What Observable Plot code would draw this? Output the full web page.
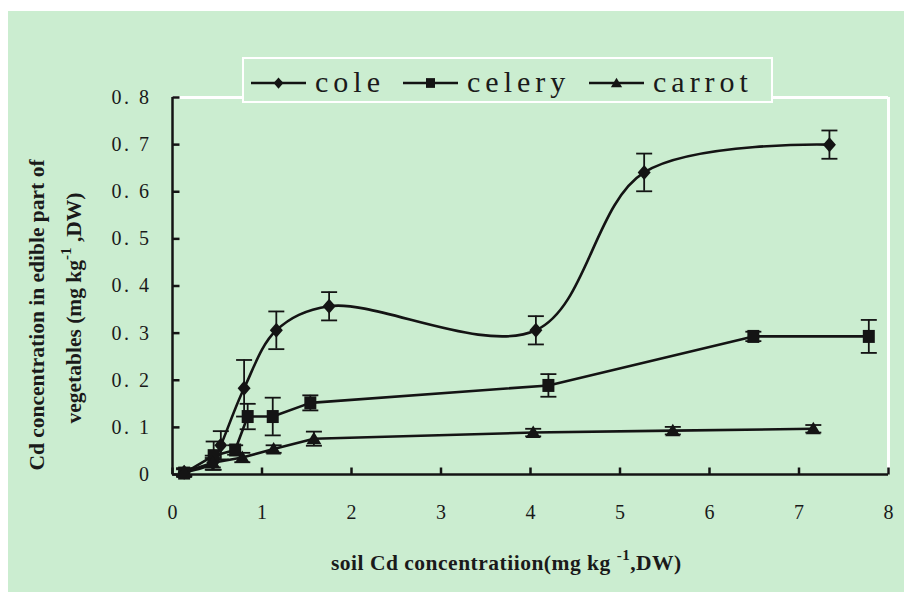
<!DOCTYPE html>
<html><head><meta charset="utf-8">
<script src="https://cdn.jsdelivr.net/npm/d3@7"></script>
<script src="https://cdn.jsdelivr.net/npm/@observablehq/plot@0.6"></script>
<style>
body{margin:0;background:#fff;width:904px;height:592px;overflow:hidden;position:relative;}
#panel{position:absolute;left:8px;top:11px;width:896px;height:581px;background:#cbedd0;}
#chart{position:absolute;left:0;top:0;}
.ttl{position:absolute;font-family:"Liberation Serif",serif;font-weight:bold;font-size:21.5px;color:#1a1a1a;white-space:nowrap;line-height:1;}
.ttl sup{font-size:15px;position:relative;top:-2px;}
.rot{transform:translate(-50%,-50%) rotate(-90deg);}
#legend{position:absolute;left:234px;top:46px;width:527px;height:42px;border:2.5px solid #fff;background:#cbedd0;}
#chart .ylab text{letter-spacing:2.5px;}
</style></head>
<body>
<div id="panel">
  <div id="chart"></div>
  <div id="legend"></div>
  <div class="ttl rot" style="left:30px;top:304px;">Cd concentration in edible part of</div>
  <div class="ttl rot" style="left:65px;top:297px;">vegetables (mg kg<sup>-1</sup> ,DW)</div>
  <div class="ttl" style="left:323px;top:539px;letter-spacing:0.5px;">soil Cd concentratiion(mg kg <sup>-1</sup>,DW)</div>
</div>
<script>
// ---- data ----
const seriesNames = ["cole", "celery", "carrot"];
const coleX   = [0.13, 0.45, 0.54, 0.80, 1.16, 1.75, 4.06, 5.27, 7.34];
const coleY   = [0.005, 0.025, 0.062, 0.183, 0.306, 0.357, 0.306, 0.641, 0.700];
const coleErr = [0.008, 0.015, 0.030, 0.060, 0.040, 0.030, 0.030, 0.040, 0.030];
const celeryX   = [0.13, 0.46, 0.70, 0.84, 1.12, 1.54, 4.20, 6.49, 7.78];
const celeryY   = [0.003, 0.040, 0.052, 0.123, 0.123, 0.152, 0.189, 0.293, 0.293];
const celeryErr = [0.008, 0.030, 0.010, 0.027, 0.040, 0.016, 0.024, 0.010, 0.035];
const carrotX   = [0.13, 0.45, 0.78, 1.13, 1.58, 4.03, 5.59, 7.16];
const carrotY   = [0.005, 0.025, 0.036, 0.054, 0.076, 0.089, 0.093, 0.097];
const carrotErr = [0.008, 0.010, 0.010, 0.008, 0.015, 0.008, 0.008, 0.008];
const xTicks = [0, 1, 2, 3, 4, 5, 6, 7, 8];
const xLabels = ["0", "1", "2", "3", "4", "5", "6", "7", "8"];
const yTicks = [0, 0.1, 0.2, 0.3, 0.4, 0.5, 0.6, 0.7, 0.8];
const yLabels = ["0", "0. 1", "0. 2", "0. 3", "0. 4", "0. 5", "0. 6", "0. 7", "0. 8"];

const ink = "#141414";
const diamondSym = {draw(c){ c.moveTo(0,-7.5); c.lineTo(6.5,0); c.lineTo(0,7.5); c.lineTo(-6.5,0); c.closePath(); }};
const squareSym  = {draw(c){ c.moveTo(-6,-6.5); c.lineTo(6,-6.5); c.lineTo(6,6.5); c.lineTo(-6,6.5); c.closePath(); }};
const triSym     = {draw(c){ c.moveTo(0,-7); c.lineTo(7.5,5.5); c.lineTo(-7.5,5.5); c.closePath(); }};
const capSym     = {draw(c){ c.moveTo(-8,0); c.lineTo(8,0); }};
const yTickSym   = {draw(c){ c.moveTo(0,0); c.lineTo(7,0); }};
const xTickSym   = {draw(c){ c.moveTo(0,0); c.lineTo(0,-7); }};

const mk = (name, X, Y, E) => X.map((x, i) => ({name, x, y: Y[i], lo: Y[i] - E[i], hi: Y[i] + E[i]}));
const cole = mk("cole", coleX, coleY, coleErr);
const celery = mk("celery", celeryX, celeryY, celeryErr);
const carrot = mk("carrot", carrotX, carrotY, carrotErr);
const all = [...cole, ...celery, ...carrot];
const syms = {cole: diamondSym, celery: squareSym, carrot: triSym};
const curves = {cole: "catmull-rom", celery: "linear", carrot: "linear"};

const marks = [
  Plot.ruleY([0.8], {stroke: "#fff", strokeWidth: 3}),
  Plot.ruleX([8], {stroke: "#fff", strokeWidth: 3}),
  Plot.ruleX(all, {x: "x", y1: "lo", y2: "hi", stroke: ink, strokeWidth: 1.8}),
  Plot.dot(all, {x: "x", y: "lo", symbol: capSym, stroke: ink, strokeWidth: 1.8, fill: "none"}),
  Plot.dot(all, {x: "x", y: "hi", symbol: capSym, stroke: ink, strokeWidth: 1.8, fill: "none"}),
];
for (const d of [cole, celery, carrot]) {
  marks.push(Plot.line(d, {x: "x", y: "y", curve: curves[d[0].name], stroke: ink, strokeWidth: 2.6}));
}
for (const d of [cole, celery, carrot]) {
  marks.push(Plot.dot(d, {x: "x", y: "y", symbol: syms[d[0].name], fill: ink, stroke: "none"}));
}
marks.push(
  Plot.ruleX([0], {stroke: ink, strokeWidth: 2.5}),
  Plot.ruleY([0], {stroke: ink, strokeWidth: 2.5}),
  Plot.dot(yTicks, {x: 0, y: d => d, symbol: yTickSym, stroke: ink, strokeWidth: 2.5}),
  Plot.dot(xTicks, {x: d => d, y: 0, symbol: xTickSym, stroke: ink, strokeWidth: 2.5}),
  Plot.axisY(yTicks, {tickSize: 0, tickPadding: 21, tickFormat: d => yLabels[Math.round(d * 10)], label: null, className: "ylab"}),
  Plot.axisX(xTicks, {tickSize: 0, tickPadding: 30, tickFormat: d => xLabels[Math.round(d)], label: null})
);

const plot = Plot.plot({
  width: 896, height: 581,
  marginLeft: 164, marginRight: 16, marginTop: 86, marginBottom: 118,
  style: {background: "transparent", fontFamily: "'Liberation Serif', serif", fontSize: "20px", color: "#1a1a1a", overflow: "visible"},
  x: {domain: [0, 8]},
  y: {domain: [0, 0.8]},
  marks
});
document.getElementById("chart").appendChild(plot);

// ---- legend ----
const lg = d3.select("#legend").append("svg").attr("width", 527).attr("height", 42).style("display", "block");
const legendItems = [
  {name: seriesNames[0], x0: 7, sym: diamondSym},
  {name: seriesNames[1], x0: 159, sym: squareSym},
  {name: seriesNames[2], x0: 345, sym: triSym}
];
const ly = 24;
for (const it of legendItems) {
  lg.append("line").attr("x1", it.x0).attr("x2", it.x0 + 55).attr("y1", ly).attr("y2", ly).attr("stroke", ink).attr("stroke-width", 2.6);
  const p = d3.path(); it.sym.draw(p);
  lg.append("path").attr("d", p.toString()).attr("transform", `translate(${it.x0 + 27.5},${ly}) scale(0.75)`).attr("fill", ink);
  lg.append("text").attr("x", it.x0 + 64).attr("y", ly + 9).text(it.name)
    .attr("font-family", "'Liberation Serif', serif").attr("font-size", 30).attr("letter-spacing", 5).attr("fill", "#1a1a1a");
}
</script>
</body></html>
